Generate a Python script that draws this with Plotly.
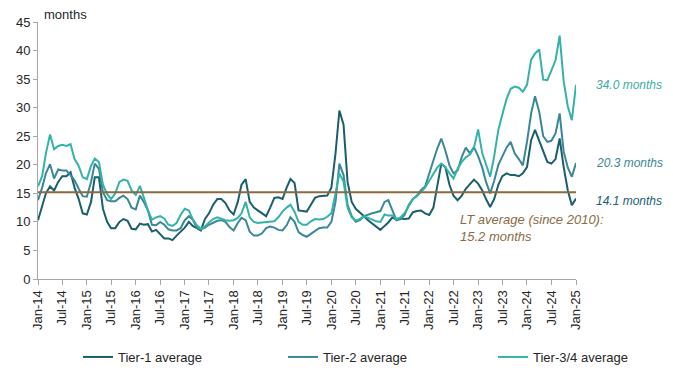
import pandas as pd
import plotly.graph_objects as go

# ---- data ----
start_month = "2014-01-01"
end_month = "2025-01-01"

tier1 = [10.3, 13.0, 15.0, 16.2, 15.5, 17.0, 18.0, 18.0, 18.7, 16.0, 14.0, 11.5,
         11.3, 13.5, 17.8, 17.8, 12.3, 10.0, 8.9, 8.9, 10.0, 10.5, 10.2, 8.8,
         8.7, 9.7, 9.5, 9.6, 8.3, 8.6, 7.8, 7.1, 7.1, 6.8, 7.6, 8.3,
         9.0, 10.0, 9.3, 8.9, 8.5, 10.5, 11.5, 13.0, 14.0, 14.0, 13.3, 12.0,
         11.3, 13.5, 16.5, 17.5, 13.5, 12.5, 12.0, 11.5, 11.0, 12.5, 14.2, 14.3,
         14.0, 16.0, 17.5, 16.8, 12.0, 11.9, 11.8, 13.0, 14.2, 14.5, 14.5, 14.6,
         16.0, 22.0, 29.5, 27.0, 17.0, 13.5, 12.3, 11.7, 11.0, 10.3, 9.7, 9.1,
         8.6, 9.3, 9.9, 10.8, 10.4, 10.6, 10.5, 10.6, 11.7, 11.9, 12.0, 11.5,
         11.2, 12.5, 16.5, 20.2, 19.6, 16.5, 14.6, 13.8, 14.6, 15.8, 16.6, 17.4,
         16.7, 15.5, 14.0, 12.6, 14.0, 16.5, 18.0, 18.5, 18.2, 18.2, 18.0, 18.5,
         19.6, 24.3, 26.1, 24.3, 22.3, 20.5, 20.2, 21.0, 24.6, 19.6, 15.5, 12.9,
         14.1]

tier2 = [13.8, 16.0, 18.5, 20.1, 17.6, 19.2, 19.0, 19.0, 18.2, 17.3, 15.8, 14.5,
         14.4, 17.0, 20.2, 19.3, 15.2, 13.8, 13.6, 13.6, 14.2, 14.6, 14.0, 12.5,
         12.2, 14.6, 13.5, 12.0, 9.5, 9.4, 10.0, 9.5, 8.7, 8.5, 8.5, 8.9,
         10.3, 11.0, 10.4, 9.0, 8.7, 9.0, 9.5, 9.9, 10.2, 10.3, 10.0, 9.1,
         8.5, 9.8, 10.7, 10.3, 8.3, 7.6, 7.6, 8.0, 8.9, 9.2, 9.0, 8.6,
         8.5, 9.4, 10.8, 10.0, 8.2, 7.7, 7.4, 7.9, 8.4, 8.9, 9.0, 9.0,
         10.0, 13.5, 20.2, 18.2, 13.0, 11.0, 10.0, 10.3, 11.0, 11.3, 11.5, 11.7,
         11.9, 13.5, 13.8, 12.0, 10.3, 10.5, 11.2, 13.0, 14.0, 14.6, 15.6, 16.2,
         18.5, 20.5, 22.8, 24.6, 22.5, 19.9, 18.5, 19.0, 21.4, 23.0, 22.0, 23.1,
         21.5, 19.5, 17.0, 15.0, 17.2, 20.0, 21.5, 23.0, 24.0, 22.0, 21.0, 19.9,
         24.0, 29.0, 32.0, 29.3, 25.0, 24.0, 24.2, 25.5, 29.0, 22.3, 19.5, 17.9,
         20.3]

tier34 = [16.2, 18.0, 22.0, 25.3, 22.7, 23.3, 23.5, 23.3, 23.6, 21.0, 19.8, 17.8,
          17.5, 19.8, 21.1, 20.5, 16.5, 14.9, 14.0, 15.0, 17.0, 17.4, 17.2, 15.5,
          14.7, 16.3, 14.3, 12.0, 10.4, 10.8, 11.0, 10.6, 9.5, 9.3, 9.8, 11.2,
          12.3, 12.0, 10.5, 9.4, 8.8, 9.2, 9.9, 10.5, 10.8, 10.5, 10.3, 10.2,
          10.3, 10.7, 11.5, 13.5, 10.8, 10.0, 9.8, 9.9, 10.0, 10.0, 10.1, 10.8,
          11.8, 12.5, 13.0, 11.8, 10.0, 9.5, 9.5, 10.1, 10.5, 10.4, 10.5, 10.9,
          11.5, 15.0, 18.5, 17.0, 12.5, 10.8, 10.2, 10.5, 11.0, 10.7, 10.4, 10.1,
          10.0, 11.3, 11.1, 11.1, 10.5, 10.8, 11.5, 12.7, 14.0, 14.5, 15.2, 16.0,
          17.2, 18.5, 19.5, 20.2, 19.6, 18.5, 17.6, 19.3, 20.5, 21.3, 21.8, 23.0,
          26.2, 22.0, 19.9, 17.9, 21.5, 26.1, 28.8, 31.5, 33.3, 33.7, 33.5, 32.8,
          34.0, 38.4, 39.5, 40.2, 34.9, 34.8, 36.5, 38.3, 42.6, 34.6, 30.2, 27.8,
          34.0]

lt_average = 15.2

series_names = ["Tier-1 average", "Tier-2 average", "Tier-3/4 average"]

tick_labels = ["Jan-14", "Jul-14", "Jan-15", "Jul-15", "Jan-16", "Jul-16",
               "Jan-17", "Jul-17", "Jan-18", "Jul-18", "Jan-19", "Jul-19",
               "Jan-20", "Jul-20", "Jan-21", "Jul-21", "Jan-22", "Jul-22",
               "Jan-23", "Jul-23", "Jan-24", "Jul-24", "Jan-25"]

# ---- figure ----
months = pd.date_range(start_month, end_month, freq="MS")
tick_vals = months[::6]

FONT = "Liberation Sans, Arial, sans-serif"
c1, c2, c3 = "#1B5E6C", "#3A8797", "#33B3A8"
brown = "#8B6A3F"

W, H = 665, 367  # page adds an 8px body margin

legend_ids = ["legend", "legend2", "legend3"]
legend_left = [70, 275, 485]  # px from container left

fig = go.Figure()
for name, vals, col, lg in zip(series_names, [tier1, tier2, tier34], [c1, c2, c3], legend_ids):
    fig.add_trace(go.Scatter(x=months, y=vals, mode="lines", name=name, legend=lg,
                             line=dict(color=col, width=2)))

fig.add_trace(go.Scatter(x=months, y=[lt_average] * len(months), mode="lines",
                         showlegend=False, line=dict(color=brown, width=2)))

legend_style = dict(orientation="h", xref="container", yref="container",
                    y=18 / H, xanchor="left", yanchor="middle",
                    font=dict(size=13, color="#262626"),
                    bgcolor="rgba(0,0,0,0)", itemclick=False, itemdoubleclick=False)

fig.update_layout(
    width=W, height=H,
    margin=dict(l=30, r=97, t=14, b=96, autoexpand=False),
    paper_bgcolor="white", plot_bgcolor="white",
    font=dict(family=FONT, size=13, color="#262626"),
    showlegend=True,
    legend=dict(x=legend_left[0] / W, **legend_style),
    legend2=dict(x=legend_left[1] / W, **legend_style),
    legend3=dict(x=legend_left[2] / W, **legend_style),
)

fig.update_xaxes(
    type="date", range=[months[0], months[-1]], automargin=False,
    tickvals=tick_vals, ticktext=tick_labels, tickangle=-90,
    showline=True, linecolor="#A6A6A6", linewidth=1,
    ticks="outside", ticklen=5, tickcolor="#A6A6A6",
    showgrid=False, zeroline=False,
    tickfont=dict(size=13, color="#262626"),
)
fig.update_yaxes(
    range=[0, 45], dtick=5, automargin=False,
    showline=True, linecolor="#A6A6A6", linewidth=1,
    ticks="outside", ticklen=4, tickcolor="#A6A6A6",
    showgrid=False, zeroline=False,
    tickfont=dict(size=13, color="#262626"),
)

annots = [
    dict(text="months", xref="paper", yref="paper", x=0.008, y=(257 + 8) / 257,
         xanchor="left", yanchor="middle", showarrow=False,
         font=dict(size=13, color="#262626")),
    dict(text=f"<i>{tier34[-1]:.1f} months</i>", xref="paper", yref="y", x=1.033, y=tier34[-1],
         xanchor="left", yanchor="middle", showarrow=False,
         font=dict(size=12, color="#3AADA3")),
    dict(text=f"<i>{tier2[-1]:.1f} months</i>", xref="paper", yref="y", x=1.033, y=tier2[-1],
         xanchor="left", yanchor="middle", showarrow=False,
         font=dict(size=12, color="#3B8696")),
    dict(text=f"<i>{tier1[-1]:.1f} months</i>", xref="paper", yref="y", x=1.033, y=tier1[-1] - 0.4,
         xanchor="left", yanchor="middle", showarrow=False,
         font=dict(size=12, color="#21616F")),
    dict(text=f"<i>LT average (since 2010):<br>{lt_average:.1f} months</i>", xref="paper", yref="y",
         x=0.781, y=12.1, xanchor="left", yanchor="top", align="left", showarrow=False,
         font=dict(size=13, color="#8A6A45")),
]
fig.update_layout(annotations=annots)

fig.write_html("out.html")
